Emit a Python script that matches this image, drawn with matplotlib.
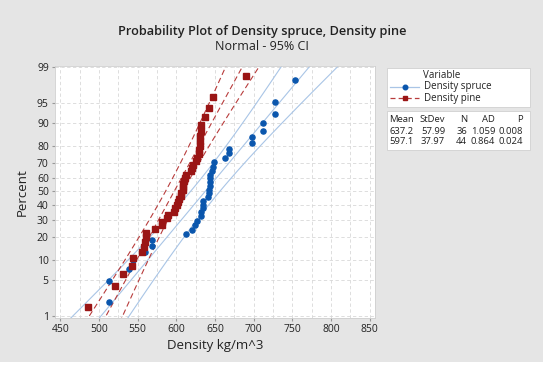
import matplotlib
matplotlib.use("Agg")
import matplotlib.pyplot as plt
from matplotlib.patches import Rectangle
from matplotlib.lines import Line2D
from statistics import NormalDist
import numpy as np

plt.rcParams['font.family'] = ['Open Sans', 'DejaVu Sans']

# values (sorted)
spruce = [513, 513, 539, 544, 560, 568, 568, 612, 620, 624,
          627, 632, 632, 634, 635, 635, 641, 642, 642, 643,
          643, 644, 644, 646, 647, 649, 663, 668, 668, 698,
          698, 712, 712, 728, 728, 753]
pine = [486, 520, 531, 543, 544, 556, 558, 560, 561, 561,
        573, 581, 581, 588, 589, 597, 598, 601, 602, 604,
        606, 606, 608, 609, 609, 610, 611, 613, 619, 620,
        621, 626, 627, 629, 629, 630, 630, 631, 632, 632,
        637, 642, 647, 690]

# summary table shown in the legend
names = ["Density spruce", "Density pine"]
means = [637.2, 597.1]
sds = [57.99, 37.97]
ns = [36, 44]
ads = [1.059, 0.864]
pvals = [0.008, 0.024]

pct_ticks = [1, 5, 10, 20, 30, 40, 50, 60, 70, 80, 90, 95, 99]
x_ticks = list(range(450, 851, 50))

nd = NormalDist()
W, H = 550, 367


def fx(x):
    return x / W


def fy(y):
    return 1 - y / H


blue = "#0a56ad"
blue_line = "#a9c5e6"
red = "#9a1515"
red_line = "#b83c3c"

fig = plt.figure(figsize=(5.5, 3.67), dpi=100)
fig.patch.set_facecolor("white")
fig.patches.append(Rectangle((0, fy(362)), fx(543), 1, transform=fig.transFigure,
                             facecolor="#e5e5e5", edgecolor="none", zorder=-10))

ax = fig.add_axes([fx(55), fy(318), fx(320), 252 / H])
ax.set_facecolor("white")


def positions(n):
    # median ranks, as Minitab plots them
    return [nd.inv_cdf((i - 0.3) / (n + 0.4)) for i in range(1, n + 1)]


zz = np.linspace(-2.6, 2.6, 60)
for data, m, s, n, col, lcol, mk, ls in [
        (spruce, means[0], sds[0], ns[0], blue, blue_line, "o", "-"),
        (pine, means[1], sds[1], ns[1], red, red_line, "s", (0, (5, 3)))]:
    fit = m + zz * s
    hw = 1.96 * s / np.sqrt(n) * np.sqrt(1 + zz ** 2 / 2)
    for line in (fit, fit - hw, fit + hw):
        ax.plot(line, zz, color=lcol, lw=0.8, ls=ls, zorder=2)
    ax.plot(data, positions(n), ls="none", marker=mk, ms=3.7, color=col,
            mec=col, zorder=3)

ax.set_xlim(443, 857)
ax.set_ylim(-2.36, 2.34)
ax.set_xticks(x_ticks)
ax.set_xticks(list(range(475, 851, 50)), minor=True)
ax.set_yticks([nd.inv_cdf(p / 100) for p in pct_ticks])
ax.set_yticklabels([str(p) for p in pct_ticks])
ax.tick_params(which="major", labelsize=7.5, length=2.5, color="#999999",
               labelcolor="#222222", pad=2)
ax.tick_params(which="minor", length=0)
ax.grid(which="both", color="#d8d8d8", ls=(0, (4, 3)), lw=0.6)
for sp in ax.spines.values():
    sp.set_color("#cfcfcf")
    sp.set_linewidth(0.6)

ax.set_xlabel("Density kg/m^3", fontsize=9.5, color="#222222", labelpad=3)
ax.set_ylabel("Percent", fontsize=9.5, color="#222222", labelpad=6)

fig.text(fx(262), fy(31), "Probability Plot of Density spruce, Density pine",
         ha="center", va="center", fontsize=9.2, fontweight="semibold", color="#222222")
fig.text(fx(262), fy(47), "Normal - 95% CI", ha="center", va="center",
         fontsize=9, color="#222222")

# legend box
fig.patches.append(Rectangle((fx(387), fy(107)), fx(143), 39 / H, transform=fig.transFigure,
                             facecolor="white", edgecolor="#d0d0d0", lw=0.6))
fig.text(fx(423), fy(75), "Variable", fontsize=7, va="center", color="#222222")
for yy, name, col, lcol, mk, ls in [(87, names[0], blue, blue_line, "o", "-"),
                                    (98, names[1], red, red_line, "s", (0, (4, 2.5)))]:
    fig.add_artist(Line2D([fx(390), fx(419)], [fy(yy), fy(yy)], color=lcol, lw=0.9, ls=ls,
                          transform=fig.transFigure))
    fig.add_artist(Line2D([fx(404.5)], [fy(yy)], marker=mk, ms=3.3, color=col, ls="none",
                          transform=fig.transFigure))
    fig.text(fx(424), fy(yy), name, fontsize=7, va="center", color="#222222")

# stats table
fig.patches.append(Rectangle((fx(387), fy(150)), fx(143), 39 / H, transform=fig.transFigure,
                             facecolor="white", edgecolor="#d0d0d0", lw=0.6))
cols_x = [414, 445, 467, 495, 523]
for cx, hd in zip(cols_x, ["Mean", "StDev", "N", "AD", "P"]):
    fig.text(fx(cx), fy(119), hd, fontsize=6.8, ha="right", va="center", color="#222222")
for k, yy in enumerate([131, 141]):
    row = [f"{means[k]:.1f}", f"{sds[k]:.2f}", str(ns[k]), f"{ads[k]:.3f}", f"{pvals[k]:.3f}"]
    for cx, t in zip(cols_x, row):
        fig.text(fx(cx), fy(yy), t, fontsize=6.8, ha="right", va="center", color="#222222")

fig.savefig("out.png", dpi=100)
